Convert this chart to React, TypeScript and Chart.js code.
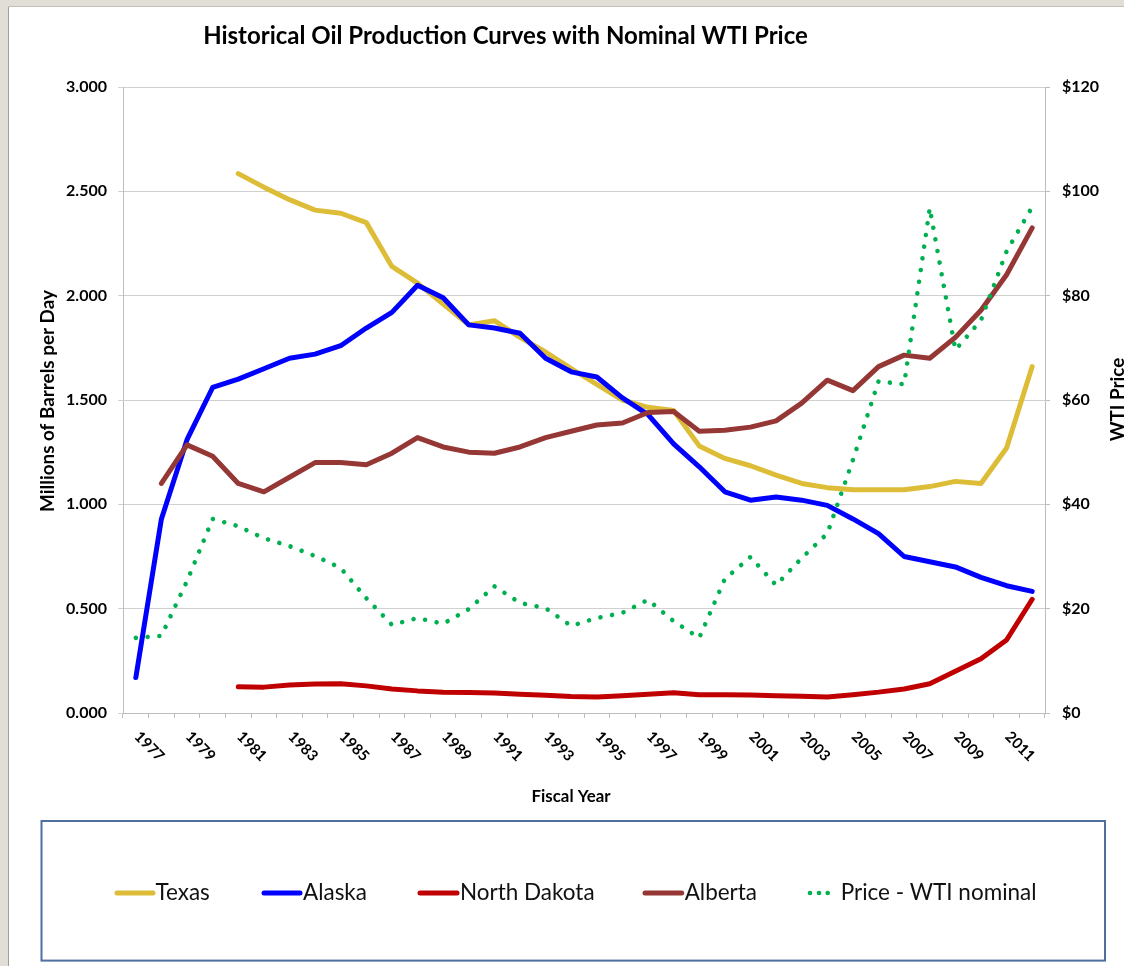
import React, { useEffect, useRef } from "react";
import { Chart, registerables } from "chart.js";

Chart.register(...registerables);

const W = 1124;
const H = 966;
const FONT = "Lato, 'Open Sans', 'DejaVu Sans', sans-serif";

// ---------- data ----------
const years = [
  "1977", "1978", "1979", "1980", "1981", "1982", "1983", "1984", "1985", "1986",
  "1987", "1988", "1989", "1990", "1991", "1992", "1993", "1994", "1995", "1996",
  "1997", "1998", "1999", "2000", "2001", "2002", "2003", "2004", "2005", "2006",
  "2007", "2008", "2009", "2010", "2011", "2012",
];

const seriesNames = ["Texas", "Alaska", "North Dakota", "Alberta", "Price - WTI nominal"];

// Millions of barrels per day
const texas = [
  null, null, null, null, 2.585, 2.52, 2.46, 2.41, 2.395, 2.35,
  2.14, 2.06, 1.96, 1.86, 1.88, 1.8, 1.73, 1.65, 1.575, 1.5,
  1.465, 1.45, 1.28, 1.22, 1.185, 1.14, 1.1, 1.08, 1.07, 1.07,
  1.07, 1.085, 1.11, 1.1, 1.27, 1.66,
];
const alaska = [
  0.17, 0.93, 1.31, 1.56, 1.6, 1.65, 1.7, 1.72, 1.76, 1.845,
  1.92, 2.05, 1.99, 1.86, 1.845, 1.82, 1.7, 1.635, 1.61, 1.51,
  1.43, 1.29, 1.18, 1.06, 1.02, 1.035, 1.02, 0.995, 0.93, 0.86,
  0.75, 0.725, 0.7, 0.65, 0.61, 0.583,
];
const northDakota = [
  null, null, null, null, 0.126, 0.124, 0.134, 0.139, 0.14, 0.13,
  0.115, 0.106, 0.1, 0.098, 0.096, 0.09, 0.085, 0.079, 0.077, 0.083,
  0.09, 0.097, 0.088, 0.087, 0.086, 0.083, 0.08, 0.077, 0.088, 0.1,
  0.115, 0.14, 0.2, 0.26, 0.35, 0.545,
];
const alberta = [
  null, 1.1, 1.285, 1.23, 1.1, 1.06, 1.13, 1.2, 1.2, 1.19,
  1.245, 1.32, 1.275, 1.25, 1.245, 1.275, 1.32, 1.35, 1.38, 1.39,
  1.44, 1.445, 1.35, 1.355, 1.37, 1.4, 1.485, 1.595, 1.545, 1.66,
  1.715, 1.7, 1.8, 1.93, 2.1, 2.325,
];
// WTI nominal price, $ per barrel
const wtiPrice = [
  14.4, 14.8, 25.3, 37.2, 35.8, 33.5, 32.0, 30.1, 27.8, 22.0,
  16.9, 18.2, 17.1, 19.9, 24.3, 21.1, 20.1, 16.7, 18.2, 19.2,
  21.7, 17.6, 14.4, 25.7, 29.9, 24.5, 29.7, 34.4, 48.5, 63.6,
  63.0, 96.8, 69.6, 75.3, 88.5, 97.0,
];

const productionAxis = { min: 0, max: 3, step: 0.5 };
const priceAxis = { min: 0, max: 120, step: 20 };

// ---------- styles ----------
const C_TEXAS = "#DDBD38";
const C_ALASKA = "#0000FF";
const C_ND = "#C00000";
const C_ALBERTA = "#953735";
const C_PRICE = "#00B050";
const GRID = "#d0d0d0";
const AXIS = "#bdbdbd";

const CHART_TOP = 87;
const CHART_BOTTOM = 713;
const CHART_LEFT = 123;
const CHART_RIGHT = 1045;

function fitSize(ctx: CanvasRenderingContext2D, text: string, width: number, weight: string) {
  ctx.font = `${weight} 20px ${FONT}`;
  const w = ctx.measureText(text).width;
  return (20 * width) / w;
}

const framePlugin = {
  id: "frame",
  beforeDraw(chart: any) {
    const ctx: CanvasRenderingContext2D = chart.ctx;
    ctx.save();
    ctx.fillStyle = "#ffffff";
    ctx.fillRect(0, 0, W, H);
    ctx.fillStyle = "#e1ded8";
    ctx.fillRect(0, 0, W, 6);
    ctx.fillRect(0, 0, 8, H);
    ctx.lineWidth = 1;
    ctx.strokeStyle = "#a29e98";
    ctx.beginPath();
    ctx.moveTo(8.5, 6);
    ctx.lineTo(8.5, H);
    ctx.stroke();
    ctx.strokeStyle = "#c4c0ba";
    ctx.beginPath();
    ctx.moveTo(8, 6.5);
    ctx.lineTo(W, 6.5);
    ctx.stroke();
    ctx.restore();
  },
};

const textPlugin = {
  id: "texts",
  afterDraw(chart: any) {
    const ctx: CanvasRenderingContext2D = chart.ctx;
    ctx.save();
    ctx.fillStyle = "#000";

    // Title
    const title = "Historical Oil Production Curves with Nominal WTI Price";
    const ts = fitSize(ctx, title, 605, "bold");
    ctx.font = `bold ${ts}px ${FONT}`;
    ctx.textAlign = "center";
    ctx.textBaseline = "alphabetic";
    ctx.fillText(title, 505.5, 44);

    // Left axis title
    const lt = "Millions of Barrels per Day";
    const ls = fitSize(ctx, lt, 222, "bold");
    ctx.save();
    ctx.font = `bold ${ls}px ${FONT}`;
    ctx.translate(48, 401);
    ctx.rotate(-Math.PI / 2);
    ctx.textAlign = "center";
    ctx.textBaseline = "middle";
    ctx.fillText(lt, 0, 0);
    ctx.restore();

    // Right axis title
    const rt = "WTI Price";
    ctx.save();
    ctx.font = `bold ${ls}px ${FONT}`;
    ctx.translate(1118, 399.5);
    ctx.rotate(-Math.PI / 2);
    ctx.textAlign = "center";
    ctx.textBaseline = "middle";
    ctx.fillText(rt, 0, 0);
    ctx.restore();

    // X axis title
    const xt = "Fiscal Year";
    const xs = fitSize(ctx, xt, 79, "bold");
    ctx.font = `bold ${xs}px ${FONT}`;
    ctx.textAlign = "center";
    ctx.textBaseline = "middle";
    ctx.fillText(xt, 571, 797);

    // X tick labels (rotated clockwise)
    const xScale = chart.scales.x;
    ctx.font = `bold 15px ${FONT}`;
    years.forEach((y, i) => {
      if (i % 2 !== 0) return;
      const px = xScale.getPixelForValue(i);
      ctx.save();
      ctx.translate(px + 13.5, 746.5);
      ctx.rotate(Math.PI / 4);
      ctx.textAlign = "center";
      ctx.textBaseline = "middle";
      ctx.fillText(y, 0, 0);
      ctx.restore();
    });

    // Legend box
    ctx.strokeStyle = "#4f6f9f";
    ctx.lineWidth = 2;
    ctx.strokeRect(41.5, 821, 1063.5, 139.6);

    const legY = 893;
    const ls2 = fitSize(ctx, seriesNames[4], 196, "normal");
    const colors = [C_TEXAS, C_ALASKA, C_ND, C_ALBERTA];
    const lineStarts = [117, 264, 420, 645];
    const lineEnds = [153, 300, 457, 681.7];
    const textStarts = [155.5, 303, 460, 684.7];
    ctx.lineCap = "round";
    for (let i = 0; i < 4; i++) {
      ctx.strokeStyle = colors[i];
      ctx.lineWidth = 5;
      ctx.beginPath();
      ctx.moveTo(lineStarts[i], legY);
      ctx.lineTo(lineEnds[i], legY);
      ctx.stroke();
    }
    ctx.fillStyle = C_PRICE;
    [810, 819, 827.7].forEach((dx) => {
      ctx.beginPath();
      ctx.arc(dx, legY, 2.3, 0, Math.PI * 2);
      ctx.fill();
    });
    ctx.fillStyle = "#111";
    ctx.font = `${ls2}px ${FONT}`;
    ctx.textAlign = "left";
    ctx.textBaseline = "middle";
    for (let i = 0; i < 4; i++) ctx.fillText(seriesNames[i], textStarts[i], legY);
    ctx.fillText(seriesNames[4], 840.7, legY);

    ctx.restore();
  },
};

export default function App() {
  const ref = useRef<HTMLCanvasElement>(null);

  useEffect(() => {
    const canvas = ref.current;
    if (!canvas) return;
    const tickFont = { family: FONT, size: 16, weight: "bold" as const };
    const chart = new Chart(canvas, {
      type: "line",
      data: {
        labels: years,
        datasets: [
          { label: seriesNames[0], data: texas, borderColor: C_TEXAS, backgroundColor: C_TEXAS, borderWidth: 5, yAxisID: "y", order: 5 },
          { label: seriesNames[1], data: alaska, borderColor: C_ALASKA, backgroundColor: C_ALASKA, borderWidth: 5, yAxisID: "y", order: 4 },
          { label: seriesNames[2], data: northDakota, borderColor: C_ND, backgroundColor: C_ND, borderWidth: 5, yAxisID: "y", order: 3 },
          { label: seriesNames[3], data: alberta, borderColor: C_ALBERTA, backgroundColor: C_ALBERTA, borderWidth: 5, yAxisID: "y", order: 2 },
          {
            label: seriesNames[4], data: wtiPrice, borderColor: C_PRICE, backgroundColor: C_PRICE,
            borderWidth: 4.6, borderDash: [0.01, 11.8], borderCapStyle: "round", yAxisID: "y2", order: 1,
          },
        ] as any,
      },
      options: {
        responsive: false,
        animation: false,
        devicePixelRatio: 1,
        layout: { padding: { top: CHART_TOP, left: 0, right: 0, bottom: 0 } },
        plugins: {
          legend: { display: false },
          title: { display: false },
          tooltip: { enabled: false },
        },
        elements: {
          point: { radius: 0, hoverRadius: 0 },
          line: { tension: 0, borderJoinStyle: "round", borderCapStyle: "round" },
        },
        scales: {
          x: {
            type: "category",
            offset: true,
            grid: { display: true, offset: true, drawOnChartArea: false, drawTicks: true, tickLength: 5, color: AXIS },
            border: { display: true, color: AXIS },
            ticks: { display: false, autoSkip: false },
            afterFit: (s: any) => { s.height = H - CHART_BOTTOM; },
          },
          y: {
            position: "left",
            min: productionAxis.min,
            max: productionAxis.max,
            ticks: {
              stepSize: productionAxis.step,
              padding: 11,
              color: "#000",
              font: tickFont,
              callback: (v: any) => Number(v).toFixed(3),
            },
            grid: { color: GRID, tickLength: 5 },
            border: { display: true, color: AXIS },
            afterFit: (s: any) => { s.width = CHART_LEFT; },
          },
          y2: {
            position: "right",
            min: priceAxis.min,
            max: priceAxis.max,
            ticks: {
              stepSize: priceAxis.step,
              padding: 12,
              color: "#000",
              font: tickFont,
              callback: (v: any) => "$" + v,
            },
            grid: { drawOnChartArea: false, color: AXIS, tickLength: 5 },
            border: { display: true, color: AXIS },
            afterFit: (s: any) => { s.width = W - CHART_RIGHT; },
          },
        },
      } as any,
      plugins: [framePlugin, textPlugin],
    });
    return () => chart.destroy();
  }, []);

  return (
    <div style={{ position: "fixed", left: 0, top: 0, width: W, height: H, background: "#fff" }}>
      <canvas ref={ref} width={W} height={H} style={{ display: "block", width: W, height: H }} />
    </div>
  );
}
